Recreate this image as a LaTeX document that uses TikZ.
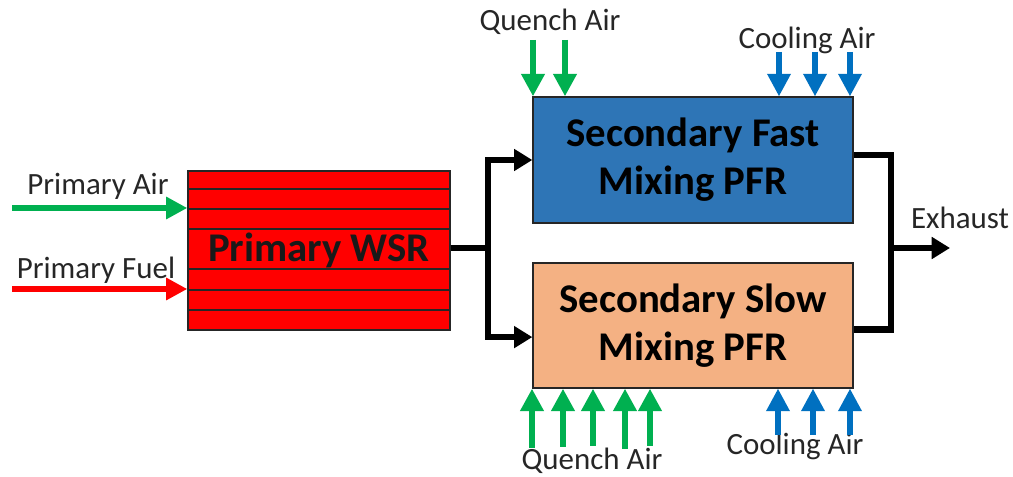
\documentclass[tikz,border=0pt]{standalone}
\usepackage{fontspec}
\setmainfont{Carlito}
\usetikzlibrary{arrows.meta}
\definecolor{airgreen}{RGB}{0,176,80}
\definecolor{fuelred}{RGB}{255,0,0}
\definecolor{coolblue}{RGB}{0,112,192}
\definecolor{fastblue}{RGB}{46,117,182}
\definecolor{slowtan}{RGB}{244,177,131}
\begin{document}
\begin{tikzpicture}[x=0.025cm,y=-0.025cm]
\tikzset{reactor/.style={draw=black!85,line width=0.9pt,minimum width=8cm,align=center,font=\fontsize{29}{34}\selectfont\bfseries}}
\tikzset{lbl/.style={font=\fontsize{22}{26}\selectfont,text=black!85,inner sep=0pt}}
\tikzset{flow/.style={line width=4.6pt,line join=miter}}
\tikzset{flowarrow/.style={flow,-{Triangle[length=13pt,width=15pt]}}}
\tikzset{feed/.style={line width=3.8pt,-{Triangle[length=15pt,width=15pt]}}}
\tikzset{stream/.style={line width=4.2pt,-{Triangle[length=16pt,width=16pt]}}}
\useasboundingbox (0,0) rectangle (1013,477);

\node[reactor,fill=fuelred,minimum width=6.55cm,minimum height=3.975cm] (wsr) at (319,250.5) {};
\foreach \y in {189,209,229,269,290,310}
  \draw[black!85,line width=1pt] (wsr.west |- 0,\y) -- (wsr.east |- 0,\y);
\node[font=\fontsize{29}{34}\selectfont\bfseries,text=black!90] (wsrtxt) at (wsr.center) {Primary WSR};

\node[reactor,fill=fastblue,minimum height=3.15cm] (fast) at (693,160) {Secondary Fast\\Mixing PFR};
\node[reactor,fill=slowtan,minimum height=3.125cm] (slow) at (693,325.5) {Secondary Slow\\Mixing PFR};

\node[lbl] (pair) at (98,186) {Primary Air};
\node[lbl] (pfuel) at (96,270) {Primary Fuel};
\node[lbl] (qtop) at (550,22) {Quench Air};
\node[lbl] (ctop) at (807,40) {Cooling Air};
\node[lbl] (qbot) at (592,461) {Quench Air};
\node[lbl] (cbot) at (795,446) {Cooling Air};
\node[lbl] (exh) at (960,218) {Exhaust};

\coordinate (airin) at (12,208);
\coordinate (fuelin) at (12,289);
\draw[feed,airgreen] (airin) -- (wsr.west |- airin);
\draw[feed,fuelred] (fuelin) -- (wsr.west |- fuelin);

\coordinate (split) at (488,248);
\draw[flow] (wsr.east |- split) -- (split);
\draw[flowarrow] (split) |- (fast.west);
\draw[flowarrow] (split) |- ([yshift=-0.29cm]slow.west);

\coordinate (join) at (891,248);
\coordinate (out) at (950,248);
\draw[flow] ([yshift=0.12cm]fast.east) -| (join) |- ([yshift=-0.1cm]slow.east);
\draw[flowarrow] (join) -- (out);

\foreach \x in {533,565}
  \draw[stream,airgreen] (\x,40) -- (fast.north -| \x,0);
\foreach \x in {779,815,850}
  \draw[stream,coolblue,line width=3.6pt] (\x,52) -- (fast.north -| \x,0);
\foreach \x/\s in {532/448,563/447,593/446,625/449,650/446}
  \draw[stream,airgreen] (\x,\s) -- (slow.south -| \x,0);
\foreach \x in {778,813,850}
  \draw[stream,coolblue,line width=3.6pt] (\x,435) -- (slow.south -| \x,0);
\end{tikzpicture}
\end{document}
